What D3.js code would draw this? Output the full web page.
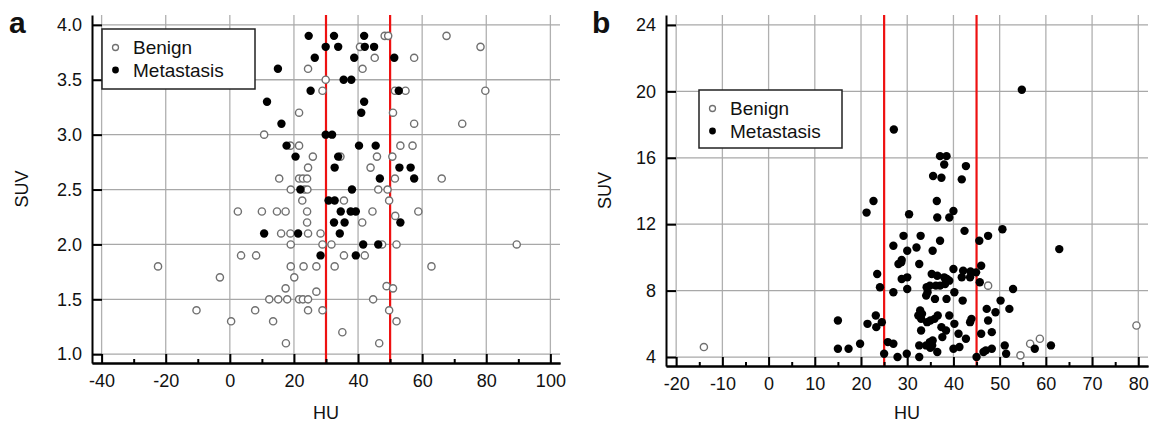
<!DOCTYPE html>
<html>
<head>
<meta charset="utf-8">
<script src="https://cdn.jsdelivr.net/npm/d3@7"></script>
<style>
  body { margin: 0; background: #fff; }
  svg text { font-family: "Liberation Sans", Arial, sans-serif; fill: #111; }
  .domain { stroke: #000; stroke-width: 2; }
  .tick line { stroke: #000; stroke-width: 2; }
</style>
</head>
<body>
<svg id="chart" width="1151" height="425"></svg>
<script>
// panel a : HU vs SUV
var benignA = [
  [48.3,3.9],[49.4,3.9],[67.6,3.9],
  [40.6,3.8],[78.2,3.8],
  [45.2,3.7],[57.5,3.7],
  [24.4,3.6],[41.4,3.6],
  [29.9,3.5],
  [28.9,3.4],[51.5,3.4],[54.8,3.4],[79.7,3.4],
  [21.6,3.2],[50.9,3.2],
  [57.5,3.1],[72.5,3.1],
  [10.7,3.0],
  [18.9,2.9],[21.6,2.9],[53.2,2.9],[57,2.9],
  [25.9,2.8],[34.5,2.8],[45.9,2.8],[50.7,2.8],
  [24.4,2.7],[43.9,2.7],
  [15.4,2.6],[21.6,2.6],[22.8,2.6],[24.1,2.6],[51.5,2.6],[66.1,2.6],
  [19,2.5],[23.3,2.5],[24.2,2.5],[46.3,2.5],[49.2,2.5],
  [22.6,2.4],[35.6,2.4],[49.7,2.4],
  [2.5,2.3],[10,2.3],[14.7,2.3],[17.4,2.3],[24.1,2.3],[44.5,2.3],[58.8,2.3],
  [24.1,2.2],[41.3,2.2],[51.6,2.26],
  [16,2.1],[18.9,2.1],[24.4,2.1],[28.3,2.1],
  [19,2.0],[28.9,2.0],[31.7,2.0],[47.5,2.0],[52,2.0],[89.5,2.0],
  [3.5,1.9],[8.2,1.9],[35.6,1.9],[42.1,1.9],
  [-22.4,1.8],[19,1.8],[23,1.8],[27,1.8],[32.7,1.8],[62.9,1.8],
  [-3.1,1.7],[20.1,1.7],
  [17.4,1.6],[27,1.57],[48.9,1.62],[50.9,1.6],
  [12.3,1.5],[15.1,1.5],[17.9,1.5],[21.6,1.5],[22.8,1.5],[24.4,1.5],[44.7,1.5],
  [-10.4,1.4],[7.9,1.4],[24.4,1.4],[28.9,1.4],[49.7,1.4],
  [0.4,1.3],[13.5,1.3],[52,1.3],
  [35.1,1.2],
  [17.5,1.1],[46.6,1.1]
];
var metA = [
  [24.6,3.9],[32.5,3.9],[41.9,3.9],
  [29.9,3.8],[33.8,3.8],[42.1,3.8],[45,3.8],
  [26.5,3.7],[38.8,3.7],[51.3,3.7],
  [15,3.6],
  [35.5,3.5],[37.9,3.5],
  [25.2,3.4],[52.7,3.4],
  [11.6,3.3],[41.9,3.3],
  [41,3.2],
  [16.1,3.1],
  [29.9,3.0],[31.9,3.0],
  [17.7,2.9],[40.3,2.9],[45.5,2.9],
  [20.5,2.8],[33.8,2.8],
  [32.7,2.7],[52.9,2.7],[56.4,2.7],
  [46.8,2.6],[57.5,2.6],
  [22,2.5],[38.1,2.5],
  [30.8,2.4],[32.7,2.4],
  [34.6,2.3],[37.7,2.3],[39.3,2.3],
  [32.5,2.2],[35.8,2.2],[53.2,2.2],
  [10.7,2.1],[21.3,2.1],[34.3,2.1],
  [41.6,2.0],[46.3,2.0],
  [28.3,1.9],[39.3,1.9]
];

// panel b
var benignB = [[-14,4.6],[47.5,8.3],[54.5,4.1],[56.6,4.8],[58.7,5.1],[79.6,5.9]];
var metB = [
  [54.8,20.1],[27.1,17.7],[37.1,16.1],[38.5,16.1],[38,15.6],[42.7,15.5],[35.6,14.9],[37.4,14.8],[41.8,14.7],
  [22.7,13.4],[36.4,13.4],[21.2,12.7],[30.4,12.6],[40,12.8],[36.5,12.4],[39.1,12.4],
  [42.4,11.6],[50.6,11.7],[47.5,11.3],[45.6,11.0],[29.2,11.3],[32.9,11.3],[27,10.7],[32,10.6],[30,10.4],
  [37.1,11.0],[35.5,10.4],[62.9,10.5],
  [28.7,9.7],[28.1,9.6],[28.8,9.85],[32.6,9.6],[46,9.5],
  [23.5,9.0],[35.3,9.0],[36.5,8.9],[40,9.3],[42.1,9.2],[43.7,9.15],[44.9,9.1],[43.6,8.8],[41.8,8.8],[28.8,8.7],[30,8.8],
  [38,8.8],[38.6,8.7],[39.1,8.6],[45.7,8.5],
  [34.9,8.3],[34.2,8.2],[34.4,7.9],[36.2,8.3],[37.1,8.3],[38.2,8.4],[34.1,7.7],[36,7.5],[38.5,7.5],[24.1,8.2],[27,7.9],
  [30,8.1],[40.2,7.9],[42,7.4],
  [52.9,8.1],[50.2,7.4],[52.1,6.9],[47.2,6.9],[49.1,6.7],[47.5,6.2],[43.9,6.3],[43.6,6.1],
  [32.8,6.8],[33.2,6.6],[32.4,6.5],[33,6.3],[34.3,6.1],[35,6.2],[36.6,6.5],[35.9,6.3],[39.1,6.5],[40.2,6.0],
  [37.4,5.8],[38.4,5.6],[33,5.6],[37.6,5.2],[41.1,5.4],[42.7,5.1],[46,5.4],[48.3,5.5],
  [23.2,6.5],[21.4,6.0],[23.3,5.8],[24.5,6.1],[25.8,4.9],[27,4.8],[19.8,4.8],[17.3,4.5],[15,4.5],[15,6.2],
  [25,4.2],[27.9,4.0],[29.9,4.2],[32.6,4.0],[32.6,4.7],[34.1,4.7],[34.9,4.9],[35.5,5.0],[35.4,4.7],[35,4.55],
  [36.5,4.3],[40,4.5],[41.3,4.6],[45,4.0],[46.5,4.3],[47,4.4],[48.3,4.5],[51.1,4.7],[51.4,4.2],[57.6,4.5],[61.1,4.7]
];

var xTicksA = [-40,-20,0,20,40,60,80,100];
var xMinorA = [-30,-10,10,30,50,70,90];
var yTicksA = [1.0,1.5,2.0,2.5,3.0,3.5,4.0];
var cutA = [30,50];

var xTicksB = [-20,-10,0,10,20,30,40,50,60,70,80];
var xMinorB = [-15,-5,5,15,25,35,45,55,65,75];
var yTicksB = [4,8,12,16,20,24];
var cutB = [25,45];

var svg = d3.select("#chart");

function drawPanel(p) {
  var x = d3.scaleLinear().domain(p.xDom).range([p.left, p.right]);
  var y = d3.scaleLinear().domain(p.yDom).range([p.bottom, p.top]);
  var g = svg.append("g");

  // grid
  g.selectAll(".vg").data(p.xTicks).enter().append("line")
    .attr("x1", function(d) { return x(d); }).attr("x2", function(d) { return x(d); })
    .attr("y1", p.top).attr("y2", p.bottom)
    .attr("stroke", "#b0b0b0").attr("stroke-width", 1.3);
  g.selectAll(".hg").data(p.yTicks).enter().append("line")
    .attr("x1", p.left).attr("x2", p.right)
    .attr("y1", function(d) { return y(d); }).attr("y2", function(d) { return y(d); })
    .attr("stroke", "#a8a8a8").attr("stroke-width", 1.3);

  // cut-off lines
  g.selectAll(".cut").data(p.cuts).enter().append("line")
    .attr("x1", function(d) { return x(d); }).attr("x2", function(d) { return x(d); })
    .attr("y1", p.top).attr("y2", p.bottom)
    .attr("stroke", "#ee1111").attr("stroke-width", 2.2);

  // points
  g.selectAll(".ben").data(p.benign).enter().append("circle")
    .attr("cx", function(d) { return x(d[0]); })
    .attr("cy", function(d) { return y(d[1]); })
    .attr("r", 3.6)
    .attr("fill", "#fff").attr("stroke", "#707070").attr("stroke-width", 1.4);
  g.selectAll(".met").data(p.met).enter().append("circle")
    .attr("cx", function(d) { return x(d[0]); })
    .attr("cy", function(d) { return y(d[1]); })
    .attr("r", 4.2)
    .attr("fill", "#000");

  // axes
  var fmt = function(d) { return p.yFmt(d); };
  g.append("g")
    .attr("transform", "translate(0," + p.bottom + ")")
    .call(d3.axisBottom(x).tickValues(p.xMinor).tickSize(-4).tickSizeOuter(0).tickFormat(""));
  g.append("g")
    .attr("transform", "translate(0," + p.bottom + ")")
    .call(d3.axisBottom(x).tickValues(p.xTicks).tickSize(-9).tickSizeOuter(0).tickPadding(11)
      .tickFormat(function(d) { return String(d); }))
    .selectAll("text").style("font-size", "18px");
  g.append("g")
    .attr("transform", "translate(" + p.left + ",0)")
    .call(d3.axisLeft(y).tickValues(p.yTicks).tickSize(-10).tickSizeOuter(0).tickPadding(10).tickFormat(fmt))
    .selectAll("text").style("font-size", "18px");

  // axis titles
  g.append("text")
    .attr("x", (p.left + p.right) / 2).attr("y", 419)
    .attr("text-anchor", "middle").style("font-size", "18px").text("HU");
  g.append("text")
    .attr("transform", "translate(" + p.yTitleX + "," + ((p.top + p.bottom) / 2) + ") rotate(-90)")
    .attr("text-anchor", "middle").style("font-size", "18px").text("SUV");

  // panel letter
  g.append("text")
    .attr("x", p.letterX).attr("y", 33)
    .style("font-size", "30px").style("font-weight", "bold").text(p.letter);

  // legend
  var lg = g.append("g").attr("transform", "translate(" + p.legX + "," + p.legY + ")");
  lg.append("rect").attr("width", p.legW).attr("height", p.legH)
    .attr("fill", "#fff").attr("stroke", "#222").attr("stroke-width", 1.5);
  lg.append("circle").attr("cx", 13.5).attr("cy", 18.5).attr("r", 3)
    .attr("fill", "#fff").attr("stroke", "#707070").attr("stroke-width", 1.3);
  lg.append("circle").attr("cx", 13.5).attr("cy", 41).attr("r", 3.4).attr("fill", "#000");
  lg.append("text").attr("x", 31).attr("y", 25).style("font-size", "19px").text("Benign");
  lg.append("text").attr("x", 31).attr("y", 48).style("font-size", "19px").text("Metastasis");
}

drawPanel({
  letter: "a", letterX: 9, yTitleX: 28,
  benign: benignA, met: metA,
  xDom: [-43, 103], yDom: [0.92, 4.09],
  left: 92, right: 560, top: 15, bottom: 363,
  xTicks: xTicksA, xMinor: xMinorA, yTicks: yTicksA, cuts: cutA,
  yFmt: d3.format(".1f"),
  legX: 102, legY: 29, legW: 153, legH: 60
});

drawPanel({
  letter: "b", letterX: 592, yTitleX: 611,
  benign: benignB, met: metB,
  xDom: [-22.2, 82.1], yDom: [3.46, 24.6],
  left: 666, right: 1148, top: 15, bottom: 366,
  xTicks: xTicksB, xMinor: xMinorB, yTicks: yTicksB, cuts: cutB,
  yFmt: d3.format("d"),
  legX: 699, legY: 90, legW: 143, legH: 58
});
</script>
</body>
</html>
